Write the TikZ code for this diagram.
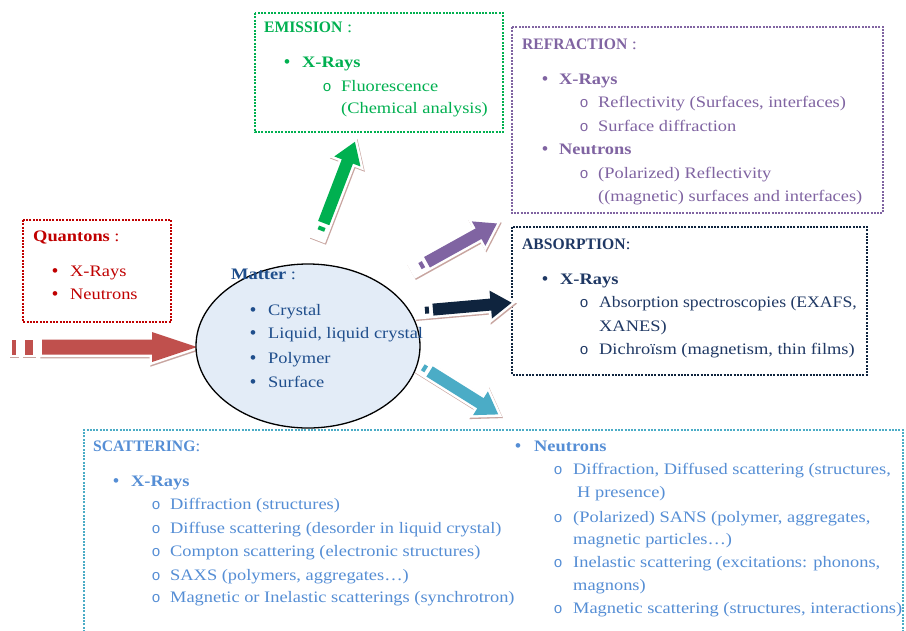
\documentclass[tikz,border=0pt]{standalone}
\usepackage{fontspec}
\setmainfont{Liberation Serif}[FakeStretch=1.15]
\newfontfamily\monofnt{Liberation Mono}
\newfontfamily\bulfnt{Liberation Sans}
\usetikzlibrary{shapes.geometric}
\definecolor{qred}{HTML}{C00000}
\definecolor{ared}{HTML}{C0504D}
\definecolor{egreen}{HTML}{00B050}
\definecolor{rpurple}{HTML}{8064A2}
\definecolor{anavy}{HTML}{1F3864}
\definecolor{anavyarr}{HTML}{0F243E}
\definecolor{scyan}{HTML}{4BACC6}
\definecolor{stext}{HTML}{558ED5}
\definecolor{mtext}{HTML}{1F4E8C}
\definecolor{mfill}{HTML}{E3ECF7}
\definecolor{arrshadow}{RGB}{200,165,160}
\newcommand\captitle[1]{\scalebox{0.85}[1]{\textbf{#1}}}
\tikzset{
  txt/.style={anchor=base west, inner sep=0pt, font=\fontsize{16}{18}\selectfont},
  hd/.style={anchor=base west, inner sep=0pt, font=\fontsize{16}{18}\selectfont\bfseries},
  bul/.style={anchor=base, inner sep=0pt, font=\fontsize{17}{18}\bulfnt},
  circ/.style={anchor=base, inner sep=0pt, font=\fontsize{15}{18}\monofnt},
  dotbox/.style={line width=2pt, dash pattern=on 2pt off 1.3pt},
}
\newcommand\fatarrow[4]{%
  \begin{scope}[shift={(0.9,1.3)}]
    \begin{scope}[shift={(#1)},rotate=#2]
      \draw[arrshadow, line width=5pt, line join=miter] (0,-6)--(#3-21,-6)--(#3-21,-14)--(#3,0)--(#3-21,14)--(#3-21,6)--(0,6)--cycle;
    \end{scope}
  \end{scope}
  \begin{scope}[shift={(#1)},rotate=#2]
    \filldraw[white, line width=5pt, line join=miter] (0,-6)--(#3-21,-6)--(#3-21,-14)--(#3,0)--(#3-21,14)--(#3-21,6)--(0,6)--cycle;
    \fill[#4] (8,-3.5) rectangle (12,3.5);
    \fill[#4] (16,-6)--(#3-21,-6)--(#3-21,-14)--(#3,0)--(#3-21,14)--(#3-21,6)--(16,6)--cycle;
  \end{scope}}
\begin{document}
\begin{tikzpicture}[x=1pt,y=-1pt]
\useasboundingbox (0,0) rectangle (906,630);
\fill[white] (0,0) rectangle (906,630);

% ---------- boxes ----------
\draw[dotbox, qred] (23,220) rectangle (171,322);
\draw[dotbox, egreen] (255,13) rectangle (503,132);
\draw[dotbox, rpurple] (512,27) rectangle (883,213);
\draw[dotbox, anavyarr] (512,227) rectangle (867,375);
\draw[dotbox, scyan] (84,632) -- (84,430) -- (903,430) -- (903,632);

% ---------- arrows ----------
% big red input arrow
\begin{scope}[shift={(0.9,1.3)}]
  \draw[arrshadow, line width=5pt] (12,339.5) rectangle (16,354.5);
  \draw[arrshadow, line width=5pt] (25,339.5) rectangle (33,354.5);
  \draw[arrshadow, line width=5pt, line join=miter] (42,339.5)--(152,339.5)--(152,332)--(197,347)--(152,362)--(152,354.5)--(42,354.5)--cycle;
\end{scope}
\filldraw[white, line width=5pt] (12,339.5) rectangle (16,354.5);
\filldraw[white, line width=5pt] (25,339.5) rectangle (33,354.5);
\filldraw[white, line width=5pt, line join=miter] (42,339.5)--(152,339.5)--(152,332)--(197,347)--(152,362)--(152,354.5)--(42,354.5)--cycle;
\fill[ared] (12,339.5) rectangle (16,354.5);
\fill[ared] (25,339.5) rectangle (33,354.5);
\fill[ared] (42,339.5)--(152,339.5)--(152,332)--(197,347)--(152,362)--(152,354.5)--(42,354.5)--cycle;

\fatarrow{318,238}{69}{103}{egreen}
\fatarrow{413,270}{29}{96}{rpurple}
\fatarrow{417,311}{5}{95}{anavyarr}
\fatarrow{416,363}{-32}{97}{scyan}

% ---------- matter ----------
\node[ellipse, draw=black, line width=1.3pt, fill=mfill, minimum width=224pt, minimum height=164pt, inner sep=0pt] (matter) at (308,346) {};
\begin{scope}[mtext]
\node[txt] (m0) at (231,279) {\textbf{Matter} :};
\node[bul] (mb1) at (253,315) {•};
\node[txt] (m1) at (268,315) {Crystal};
\node[bul] (mb2) at (253,338) {•};
\node[txt] (m2) at (268,338) {Liquid, liquid crystal};
\node[bul] (mb3) at (253,363) {•};
\node[txt] (m3) at (268,363) {Polymer};
\node[bul] (mb4) at (253,387) {•};
\node[txt] (m4) at (268,387) {Surface};
\end{scope}

% ---------- quantons ----------
\begin{scope}[qred]
\node[txt] (q0) at (33,241) {\textbf{Quantons} :};
\node[bul] (qb1) at (55,276) {•};
\node[txt] (q1) at (70,276) {X-Rays};
\node[bul] (qb2) at (55,299) {•};
\node[txt] (q2) at (70,299) {Neutrons};
\end{scope}

% ---------- emission ----------
\begin{scope}[egreen]
\node[txt] (e0) at (264,32) {\captitle{EMISSION} :};
\node[bul] (eb1) at (287,67) {•};
\node[hd] (e1) at (302,67) {X-Rays};
\node[circ] (ec1) at (327,91) {o};
\node[txt] (e2) at (341,91) {Fluorescence};
\node[txt] (e3) at (341,113) {(Chemical analysis)};
\end{scope}

% ---------- refraction ----------
\begin{scope}[rpurple]
\node[txt] (r0) at (522,49) {\captitle{REFRACTION} :};
\node[bul] (rb1) at (545,84) {•};
\node[hd] (r1) at (559,84) {X-Rays};
\node[circ] (rc1) at (584,107) {o};
\node[txt] (r2) at (598,107) {Reflectivity (Surfaces, interfaces)};
\node[circ] (rc2) at (584,131) {o};
\node[txt] (r3) at (598,131) {Surface diffraction};
\node[bul] (rb2) at (545,154) {•};
\node[hd] (r4) at (559,154) {Neutrons};
\node[circ] (rc3) at (584,178) {o};
\node[txt] (r5) at (598,178) {(Polarized) Reflectivity};
\node[txt] (r6) at (598,201) {((magnetic) surfaces and interfaces)};
\end{scope}

% ---------- absorption ----------
\begin{scope}[anavy]
\node[txt] (a0) at (522,249) {\captitle{ABSORPTION}:};
\node[bul] (ab1) at (545,284) {•};
\node[hd] (a1) at (560,284) {X-Rays};
\node[circ] (ac1) at (584,307) {o};
\node[txt] (a2) at (599,307) {\scalebox{0.96}[1]{Absorption spectroscopies (EXAFS,}};
\node[txt] (a3) at (599,331) {XANES)};
\node[circ] (ac2) at (584,354) {o};
\node[txt] (a4) at (599,354) {Dichroïsm (magnetism, thin films)};
\end{scope}

% ---------- scattering ----------
\begin{scope}[stext]
\node[txt] (s0) at (93,451) {\captitle{SCATTERING}:};
\node[bul] (sb1) at (116,486) {•};
\node[hd] (s1) at (131,486) {X-Rays};
\node[circ] (sc1) at (156,509) {o};
\node[txt] (s2) at (170,509) {Diffraction (structures)};
\node[circ] (sc2) at (156,533) {o};
\node[txt] (s3) at (170,533) {Diffuse scattering (desorder in liquid crystal)};
\node[circ] (sc3) at (156,556) {o};
\node[txt] (s4) at (170,556) {Compton scattering (electronic structures)};
\node[circ] (sc4) at (156,580) {o};
\node[txt] (s5) at (170,580) {SAXS (polymers, aggregates…)};
\node[circ] (sc5) at (156,602) {o};
\node[txt] (s6) at (170,602) {Magnetic or Inelastic scatterings (synchrotron)};

\node[bul] (nb1) at (518,451) {•};
\node[hd] (n0) at (534,451) {Neutrons};
\node[circ] (nc1) at (558,474) {o};
\node[txt] (n1) at (573,474) {Diffraction, Diffused scattering (structures,};
\node[txt] (n2) at (577,497) {H presence)};
\node[circ] (nc2) at (558,522) {o};
\node[txt] (n3) at (573,522) {(Polarized) SANS (polymer, aggregates,};
\node[txt] (n4) at (573,544) {magnetic particles…)};
\node[circ] (nc3) at (558,567) {o};
\node[txt] (n5) at (573,567) {Inelastic scattering (excitations: phonons,};
\node[txt] (n6) at (573,590) {magnons)};
\node[circ] (nc4) at (558,613) {o};
\node[txt] (n7) at (573,613) {Magnetic scattering (structures, interactions)};
\end{scope}
\end{tikzpicture}
\end{document}
